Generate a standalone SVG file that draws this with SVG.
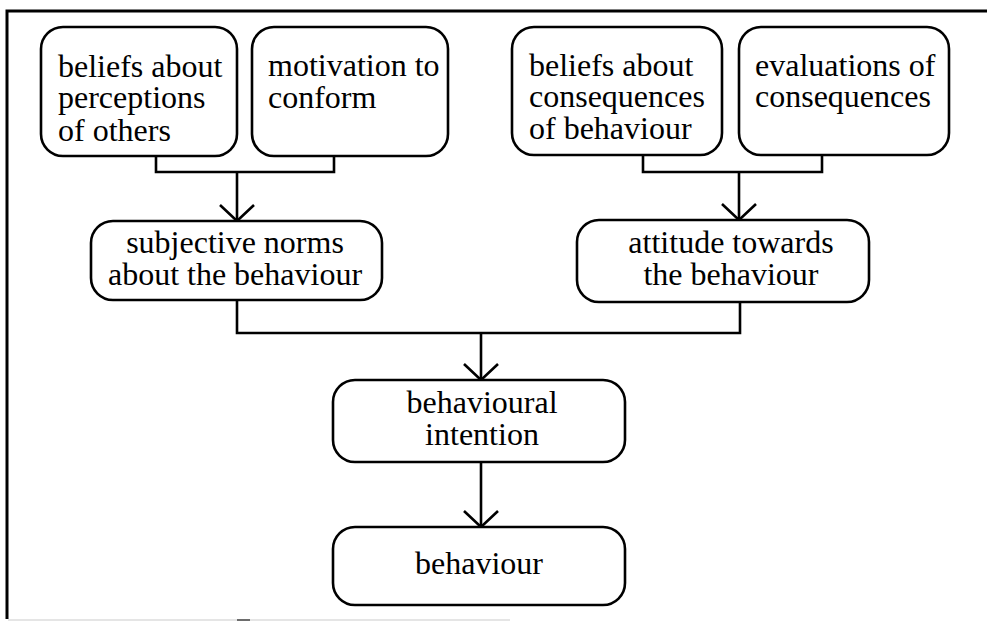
<svg xmlns="http://www.w3.org/2000/svg" width="987" height="621" viewBox="0 0 987 621">
  <style>
    .frame { fill: none; stroke: #000; stroke-width: 3; }
    .node rect { fill: #fff; stroke: #000; stroke-width: 2.6; }
    .node text { font-family: "Liberation Serif", "Times New Roman", serif; font-size: 32px; fill: #000; }
    .mid { text-anchor: middle; }
    .wire { fill: none; stroke: #000; stroke-width: 2.6; }
  </style>
  <defs>
    <marker id="vee" markerUnits="userSpaceOnUse" viewBox="-20 -20 40 40" markerWidth="40" markerHeight="40" refX="0" refY="0" orient="auto" overflow="visible">
      <path d="M-16,-17 L0,0 L-16,17" fill="none" stroke="#000" stroke-width="2.6"/>
    </marker>
  </defs>

  <!-- outer frame: top and left rules, faint bottom edge -->
  <g id="frame">
    <path class="frame" d="M7,619 V11 H987"/>
    <line x1="8" y1="620" x2="510" y2="620" stroke="#ddd" stroke-width="1.5"/>
    <line x1="237" y1="620" x2="250" y2="620" stroke="#444" stroke-width="1.5"/>
  </g>

  <!-- connectors -->
  <g id="connectors">
    <path class="wire" d="M156,156 V172 H334 V156"/>
    <path class="wire" d="M237,172 V221" marker-end="url(#vee)"/>
    <path class="wire" d="M643,155 V172 H822 V155"/>
    <path class="wire" d="M739,172 V220" marker-end="url(#vee)"/>
    <path class="wire" d="M237,300 V333 H740 V302"/>
    <path class="wire" d="M481,333 V380" marker-end="url(#vee)"/>
    <path class="wire" d="M481,462 V527" marker-end="url(#vee)"/>
  </g>

  <g id="beliefs-others" class="node">
    <rect x="41" y="27" width="196" height="129" rx="22"/>
    <text x="58" y="77">beliefs about</text>
    <text x="58" y="108">perceptions</text>
    <text x="58" y="141">of others</text>
  </g>

  <g id="motivation" class="node">
    <rect x="252" y="27" width="196" height="129" rx="22"/>
    <text x="268" y="76">motivation to</text>
    <text x="268" y="108">conform</text>
  </g>

  <g id="beliefs-consequences" class="node">
    <rect x="512" y="27" width="210" height="128" rx="22"/>
    <text x="529" y="76">beliefs about</text>
    <text x="529" y="107">consequences</text>
    <text x="529" y="139">of behaviour</text>
  </g>

  <g id="evaluations" class="node">
    <rect x="739" y="27" width="210" height="128" rx="22"/>
    <text x="755" y="76">evaluations of</text>
    <text x="755" y="107">consequences</text>
  </g>

  <g id="subjective-norms" class="node">
    <rect x="91" y="221" width="291" height="79" rx="22"/>
    <text class="mid" x="235" y="253">subjective norms</text>
    <text class="mid" x="235" y="285">about the behaviour</text>
  </g>

  <g id="attitude" class="node">
    <rect x="577" y="220" width="292" height="82" rx="22"/>
    <text class="mid" x="731" y="253">attitude towards</text>
    <text class="mid" x="731" y="285">the behaviour</text>
  </g>

  <g id="intention" class="node">
    <rect x="333" y="380" width="292" height="82" rx="22"/>
    <text class="mid" x="482" y="413">behavioural</text>
    <text class="mid" x="482" y="445">intention</text>
  </g>

  <g id="behaviour" class="node">
    <rect x="333" y="527" width="292" height="78" rx="22"/>
    <text class="mid" x="479" y="574">behaviour</text>
  </g>
</svg>
